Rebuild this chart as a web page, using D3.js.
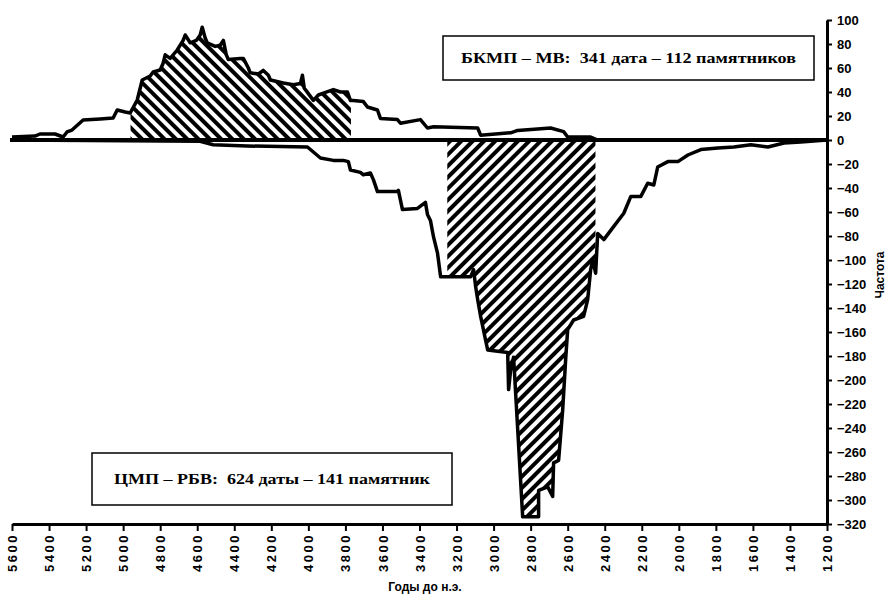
<!DOCTYPE html>
<html lang="ru">
<head>
<meta charset="UTF-8">
<title>БКМП – МВ и ЦМП – РБВ</title>
<script src="https://d3js.org/d3.v7.min.js"></script>
<style>
    body { margin: 0; background: #fff; }
    .axis text { font-family: Arial, "Liberation Sans", sans-serif; font-weight: bold; font-size: 13px; fill: #000; }
    .legend text { font-family: "Liberation Serif", "Times New Roman", serif; font-weight: bold; font-size: 15px; white-space: pre; }
</style>
</head>
<body>
<svg id="chart" width="896" height="599"></svg>
<script>
// БКМП – МВ (верхняя кривая), годы до н.э. и частота
const upperYears = [5600, 5476, 5449, 5368, 5324, 5303, 5276, 5216, 5124, 5054, 5032, 4989, 4962, 4924, 4897,
    4854, 4838, 4800, 4784, 4773, 4746, 4708, 4676, 4665, 4638, 4605, 4584, 4573, 4557, 4546, 4503, 4476,
    4459, 4443, 4432, 4368, 4351, 4324, 4314, 4270, 4243, 4216, 4205, 4135, 4081, 4043, 4032, 4022, 4016,
    3973, 3946, 3919, 3865, 3827, 3789, 3773, 3757, 3703, 3681, 3627, 3611, 3519, 3503, 3395, 3357, 3324,
    3086, 3070, 2908, 2870, 2692, 2622, 2600, 2476, 2438, 1200];
const upperValues = [2.5, 3.3, 5, 5, 2.5, 6.7, 8.3, 16.7, 17.5, 18.3, 25, 23.3, 22.5, 33.3, 50,
    53.3, 56.7, 58.3, 64, 71, 68, 75, 83, 87.5, 81, 83, 87.5, 94, 85, 81, 78, 79,
    83, 71, 67, 68, 68, 60, 56, 55, 58, 54, 50, 47.5, 46, 47, 54, 43, 42,
    33, 37.5, 39, 42, 40, 40, 33, 33, 32, 27.5, 25, 18, 17, 14, 17, 10, 11,
    10, 4, 6, 8, 10, 7, 2.5, 2.5, 0, 0];

// ЦМП – РБВ (нижняя кривая)
const lowerYears = [5600, 4584, 4514, 4330, 4005, 3973, 3935, 3865, 3811, 3784, 3773, 3719, 3703, 3665,
    3649, 3627, 3519, 3514, 3492, 3411, 3368, 3357, 3341, 3324, 3303, 3286, 3124, 3108, 3097, 3086,
    3070, 3032, 2924, 2919, 2908, 2892, 2843, 2757, 2757, 2708, 2681, 2676, 2649, 2627, 2611, 2600,
    2568, 2514, 2492, 2476, 2465, 2449, 2438, 2405, 2351, 2297, 2259, 2205, 2168, 2135, 2114, 2059,
    2005, 1951, 1881, 1789, 1703, 1611, 1519, 1432, 1341, 1200];
const lowerValues = [0, -1, -4, -5, -5.8, -10, -15, -17, -17, -18, -25, -27, -29, -27.5,
    -33, -43, -43, -42, -58, -57, -52, -62, -67, -81, -94, -114, -114, -108, -122, -133,
    -147, -175, -177, -208, -192, -181, -314, -314, -292, -289, -297, -269, -267, -225, -183, -158,
    -150, -147, -133, -108, -100, -111, -78, -83, -72, -61, -47, -47, -36, -37.5, -22.5, -18,
    -18, -12.5, -8, -6.7, -5.8, -4, -5.8, -2.5, -1.7, 0];

const upperHatch = [4960, 3770];
const lowerHatch = [3250, 2450];

const xTicks = d3.range(5600, 1199, -200);
const yTicks = d3.range(-320, 101, 20);

const upperLabel = "БКМП – МВ:  341 дата – 112 памятников";
const lowerLabel = "ЦМП – РБВ:  624 даты – 141 памятник";

const svg = d3.select('#chart');

const x = d3.scaleLinear().domain([5600, 1200]).range([12, 827]);
const y = d3.scaleLinear().domain([-320, 100]).range([524, 20]);

const upper = upperYears.map((d, i) => ({ year: d, value: upperValues[i] }));
const lower = lowerYears.map((d, i) => ({ year: d, value: lowerValues[i] }));

// штриховки
const defs = svg.append('defs');
function hatch(id, angle) {
    defs.append('pattern')
        .attr('id', id)
        .attr('patternUnits', 'userSpaceOnUse')
        .attr('width', 8).attr('height', 8)
        .attr('patternTransform', 'rotate(' + angle + ')')
        .append('rect')
        .attr('x', 0).attr('y', 0)
        .attr('width', 4).attr('height', 8)
        .attr('fill', '#000');
}
hatch('hatchUp', -45);
hatch('hatchDown', 45);

function clipFor(id, range) {
    defs.append('clipPath').attr('id', id)
        .append('rect')
        .attr('x', x(range[0])).attr('y', 0)
        .attr('width', x(range[1]) - x(range[0])).attr('height', 599);
}
clipFor('clipUp', upperHatch);
clipFor('clipDown', lowerHatch);

const area = d3.area()
    .x(d => x(d.year))
    .y0(y(0))
    .y1(d => y(d.value));

svg.append('path')
    .datum(upper)
    .attr('d', area)
    .attr('fill', 'url(#hatchUp)')
    .attr('clip-path', 'url(#clipUp)');

svg.append('path')
    .datum(lower)
    .attr('d', area)
    .attr('fill', 'url(#hatchDown)')
    .attr('clip-path', 'url(#clipDown)');

// нулевая линия
svg.append('line')
    .attr('x1', 10).attr('x2', x(1200))
    .attr('y1', y(0)).attr('y2', y(0))
    .attr('stroke', '#000')
    .attr('stroke-width', 4);

const line = d3.line()
    .x(d => x(d.year))
    .y(d => y(d.value));

[upper, lower].forEach(data => {
    svg.append('path')
        .datum(data)
        .attr('d', line)
        .attr('fill', 'none')
        .attr('stroke', '#000')
        .attr('stroke-width', 3.5)
        .attr('stroke-linejoin', 'round');
});

// оси
const xAxis = svg.append('g')
    .attr('class', 'axis')
    .attr('transform', 'translate(0,' + y(-320) + ')')
    .call(d3.axisBottom(x).tickValues(xTicks).tickFormat(d3.format('d')).tickSize(7).tickSizeOuter(0));
xAxis.select('.domain').attr('stroke-width', 3);
xAxis.selectAll('.tick line').attr('stroke-width', 2);
xAxis.selectAll('.tick text')
    .attr('transform', 'rotate(-90)')
    .attr('x', -9).attr('y', 0)
    .attr('dy', '0.35em')
    .style('letter-spacing', '2.5px')
    .style('text-anchor', 'end');

const yAxis = svg.append('g')
    .attr('class', 'axis')
    .attr('transform', 'translate(' + x(1200) + ',0)')
    .call(d3.axisRight(y).tickValues(yTicks).tickSize(5).tickPadding(5).tickSizeOuter(0));
yAxis.select('.domain').attr('stroke-width', 3);
yAxis.selectAll('.tick line').attr('stroke-width', 2);

svg.append('text')
    .attr('transform', 'translate(884,275) rotate(-90)')
    .attr('text-anchor', 'middle')
    .style('font-family', 'Arial, "Liberation Sans", sans-serif')
    .style('font-weight', 'bold')
    .style('font-size', '12px')
    .text('Частота');

svg.append('text')
    .attr('x', 425).attr('y', 591)
    .attr('text-anchor', 'middle')
    .style('font-family', 'Arial, "Liberation Sans", sans-serif')
    .style('font-weight', 'bold')
    .style('font-size', '12px')
    .text('Годы до н.э.');

// подписи в рамках
function legend(box, label, width) {
    const g = svg.append('g').attr('class', 'legend');
    g.append('rect')
        .attr('x', box[0]).attr('y', box[1])
        .attr('width', box[2]).attr('height', box[3])
        .attr('fill', '#fff')
        .attr('stroke', '#000')
        .attr('stroke-width', 1.5);
    g.append('text')
        .attr('x', box[0] + box[2] / 2)
        .attr('y', box[1] + box[3] / 2)
        .attr('dy', '0.35em')
        .attr('text-anchor', 'middle')
        .attr('textLength', width)
        .attr('lengthAdjust', 'spacingAndGlyphs')
        .text(label);
}
legend([443, 36, 371, 44], upperLabel, 335);
legend([92, 453, 360, 52], lowerLabel, 316);
</script>
</body>
</html>
